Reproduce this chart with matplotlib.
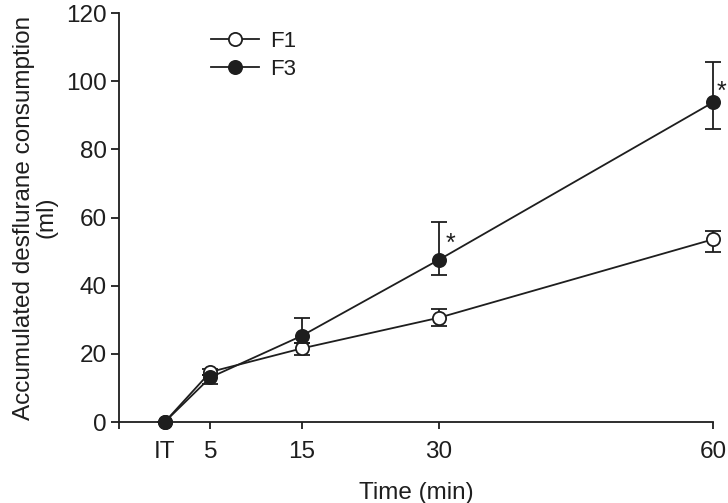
import matplotlib
matplotlib.use("Agg")
import matplotlib.pyplot as plt
import numpy as np

plt.rcParams['font.family'] = ['Liberation Sans', 'DejaVu Sans']

times = [0, 5, 15, 30, 60]
tick_pos = [-5, 0, 5, 15, 30, 60]
tick_labels = ['', 'IT', '5', '15', '30', '60']

f1_mean = [0, 14.7, 21.6, 30.6, 53.6]
f1_err_lo = [0, 0.8, 1.8, 2.4, 3.8]
f1_err_hi = [0, 0.8, 1.5, 2.6, 2.4]

f3_mean = [0, 13.1, 25.3, 47.6, 93.8]
f3_err_lo = [0, 1.8, 2.0, 4.5, 7.8]
f3_err_hi = [0, 0.8, 5.3, 11.0, 11.8]

star_times = [31.3, 60.9]
star_vals = [52.2, 97.0]

fig = plt.figure(figsize=(7.28, 5.03), dpi=100)
ax = fig.add_axes([0.1635, 0.161, 0.8159, 0.813])

col = '#1e1e1e'
for mean, lo, hi, fc, z, lab in [(f1_mean, f1_err_lo, f1_err_hi, 'white', 3, 'F1'),
                                  (f3_mean, f3_err_lo, f3_err_hi, col, 4, 'F3')]:
    ax.errorbar(times, mean, yerr=[lo, hi], color=col, lw=1.3,
                marker='o', ms=9.5, mfc=fc, mec=col, mew=1.3,
                capsize=6, capthick=1.3, elinewidth=1.3, zorder=z, label=lab,
                clip_on=False)

for t, v in zip(star_times, star_vals):
    ax.text(t, v, '*', fontsize=18, ha='center', va='center', color=col)

ax.set_xlim(-5, 60)
ax.set_ylim(0, 120)
ax.set_xticks(tick_pos)
ax.set_xticklabels(tick_labels)
ax.set_yticks(np.arange(0, 121, 20))
ax.tick_params(axis='both', labelsize=17.5, width=1.3, color=col,
               labelcolor=col, direction='out')
ax.tick_params(axis='y', length=6, pad=3)
ax.tick_params(axis='x', length=5, pad=9)
for s in ['top', 'right']:
    ax.spines[s].set_visible(False)
for s in ['left', 'bottom']:
    ax.spines[s].set_linewidth(1.3)
    ax.spines[s].set_color(col)

ax.set_xlabel('Time (min)', fontsize=17.5, color=col, labelpad=13)
ax.set_ylabel('Accumulated desflurane consumption\n(ml)', fontsize=17.5,
              color=col, labelpad=6, linespacing=1.05)

handles, labels = ax.get_legend_handles_labels()
handles = [h[0] for h in handles]
leg = ax.legend(handles, labels, loc='upper left', bbox_to_anchor=(0.274, 0.96),
                bbox_transform=fig.transFigure, frameon=False, fontsize=16,
                handlelength=2.2, handletextpad=0.5, labelspacing=0.3, borderpad=0)
for t in leg.get_texts():
    t.set_color(col)

fig.savefig('out.png', dpi=100)
